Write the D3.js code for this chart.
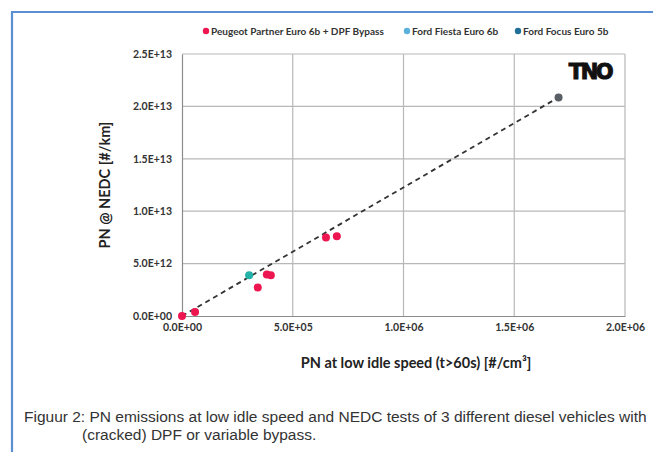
<!DOCTYPE html>
<html><head><meta charset="utf-8">
<script src="https://cdn.jsdelivr.net/npm/d3@7/dist/d3.min.js"></script>
<style>
html,body{margin:0;padding:0;background:#fff;}
svg{display:block;}
</style></head>
<body>
<svg id="chart" width="653" height="452"></svg>
<script>
// ---- data ----
const seriesNames = ["Peugeot Partner Euro 6b + DPF Bypass", "Ford Fiesta Euro 6b", "Ford Focus Euro 5b"];
const peugeotX = [0, 5.9e4, 3.83e5, 4.01e5, 3.42e5, 6.50e5, 6.99e5];
const peugeotY = [0, 3.8e11, 3.97e12, 3.88e12, 2.73e12, 7.50e12, 7.62e12];
const fiestaX = [3.03e5];
const fiestaY = [3.90e12];
const focusX = [1.70e6];
const focusY = [2.086e13];
const trendX = [0, 1.70e6];
const trendY = [0, 2.086e13];
const xTicks = [0, 5e5, 1e6, 1.5e6, 2e6];
const xTickLabels = ["0.0E+00", "5.0E+05", "1.0E+06", "1.5E+06", "2.0E+06"];
const yTicks = [0, 5e12, 1e13, 1.5e13, 2e13, 2.5e13];
const yTickLabels = ["0.0E+00", "5.0E+12", "1.0E+13", "1.5E+13", "2.0E+13", "2.5E+13"];

const pointColors = ["#ee1650", "#22b2a8", "#5a5f66"];
const legendColors = ["#ee1650", "#5ab2dc", "#1f6f98"];

const svg = d3.select("#chart");
const W = 653, H = 452;

// frame
svg.append("path").attr("d", `M12,${H} L12,12 L${W},12`)
  .attr("fill", "none").attr("stroke", "#5a8fd2").attr("stroke-width", 2.2);

const x = d3.scaleLinear().domain([0, 2e6]).range([182, 625]);
const y = d3.scaleLinear().domain([0, 2.5e13]).range([316, 54]);

const tickFont = "Lato, 'Open Sans', sans-serif";

// gridlines
svg.append("g").selectAll("line.vg").data(xTicks.slice(1)).join("line")
  .attr("x1", d => x(d)).attr("x2", d => x(d)).attr("y1", y(0)).attr("y2", y(2.5e13))
  .attr("stroke", "#b8b8b8").attr("stroke-width", 1.2);
svg.append("g").selectAll("line.hg").data(yTicks.slice(1)).join("line")
  .attr("x1", x(0)).attr("x2", x(2e6)).attr("y1", d => y(d)).attr("y2", d => y(d))
  .attr("stroke", "#b8b8b8").attr("stroke-width", 1.2);

// axes
const xAxis = d3.axisBottom(x).tickValues(xTicks).tickSize(0).tickPadding(8)
  .tickFormat((d, i) => xTickLabels[i]);
const yAxis = d3.axisLeft(y).tickValues(yTicks).tickSize(0).tickPadding(10)
  .tickFormat((d, i) => yTickLabels[i]);
const gx = svg.append("g").attr("transform", `translate(0,${y(0)})`).call(xAxis);
const gy = svg.append("g").attr("transform", `translate(${x(0)},0)`).call(yAxis);
[gx, gy].forEach(g => {
  g.select(".domain").attr("stroke", "#8c8c8c").attr("stroke-width", 1.2);
  g.selectAll("text").attr("font-family", tickFont).attr("font-weight", 700)
    .attr("font-size", 10.5).attr("fill", "#333");
});

// trend line
svg.append("line")
  .attr("x1", x(trendX[0])).attr("y1", y(trendY[0]))
  .attr("x2", x(trendX[1])).attr("y2", y(trendY[1]))
  .attr("stroke", "#333").attr("stroke-width", 1.8).attr("stroke-dasharray", "5,4");

// points
const series = [[peugeotX, peugeotY], [fiestaX, fiestaY], [focusX, focusY]];
series.forEach((s, si) => {
  const pts = s[0].map((v, i) => [v, s[1][i]]);
  svg.append("g").selectAll("circle").data(pts).join("circle")
    .attr("cx", d => x(d[0])).attr("cy", d => y(d[1])).attr("r", 4)
    .attr("fill", pointColors[si]);
});

// legend
const legendX = [206, 407, 518];
const lg = svg.append("g");
seriesNames.forEach((n, i) => {
  lg.append("circle").attr("cx", legendX[i]).attr("cy", 31).attr("r", 3.2).attr("fill", legendColors[i]);
  lg.append("text").attr("x", legendX[i] + 5).attr("y", 34.5).text(n)
    .attr("font-family", tickFont).attr("font-weight", 700).attr("font-size", 10).attr("fill", "#333");
});

// axis titles
svg.append("text").attr("x", 416).attr("y", 368).attr("text-anchor", "middle")
  .attr("font-family", tickFont).attr("font-weight", 700).attr("font-size", 14.5).attr("fill", "#222")
  .text("PN at low idle speed (t>60s) [#/cm³]");
svg.append("text").attr("transform", "translate(110,185) rotate(-90)").attr("text-anchor", "middle")
  .attr("font-family", tickFont).attr("font-weight", 700).attr("font-size", 14.5).attr("fill", "#222")
  .text("PN @ NEDC [#/km]");

// TNO logo
svg.append("text").attr("x", 590).attr("y", 79).attr("text-anchor", "middle")
  .attr("font-family", "'DejaVu Sans', sans-serif").attr("font-weight", 700).attr("font-size", 21)
  .attr("letter-spacing", -2.5).attr("fill", "#111").attr("stroke", "#111").attr("stroke-width", 1)
  .text("TNO");

// caption
const cap = svg.append("text").attr("font-family", "'Liberation Sans', Arial, sans-serif")
  .attr("font-size", 15.5).attr("fill", "#333");
cap.append("tspan").attr("x", 24).attr("y", 422)
  .text("Figuur 2: PN emissions at low idle speed and NEDC tests of 3 different diesel vehicles with");
cap.append("tspan").attr("x", 82).attr("y", 440).text("(cracked) DPF or variable bypass.");
</script>
</body></html>
